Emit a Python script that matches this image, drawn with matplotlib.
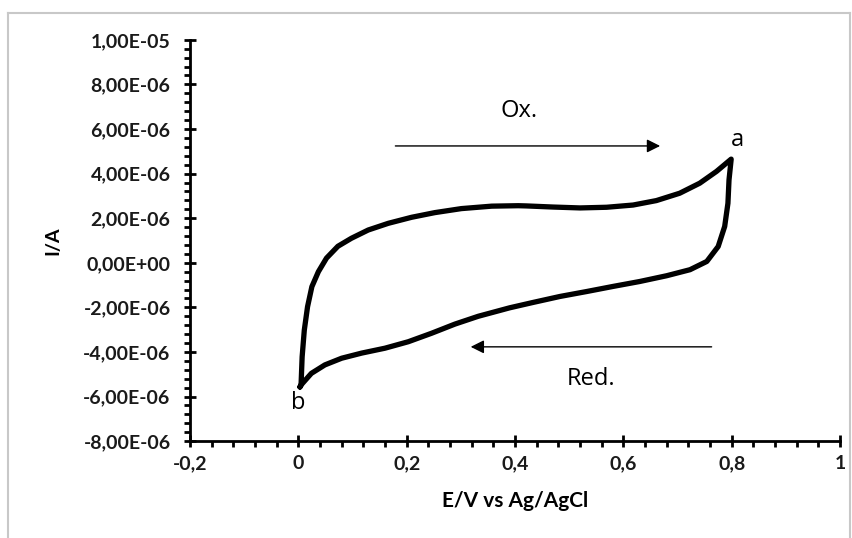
import numpy as np
import matplotlib.pyplot as plt
from matplotlib.ticker import MultipleLocator, FixedLocator, FixedFormatter
from matplotlib.lines import Line2D

# oxidation sweep, b -> a  (E in V, I in 1e-6 A)
e_ox = [0.003, 0.005, 0.007, 0.011, 0.017, 0.025, 0.037, 0.052, 0.073, 0.098,
        0.129, 0.166, 0.209, 0.252, 0.301, 0.357, 0.406, 0.421, 0.470, 0.520,
        0.569, 0.618, 0.661, 0.704, 0.741, 0.772, 0.799]
i_ox = [-5.57, -5.48, -4.22, -3.02, -1.97, -1.07, -0.40, 0.21, 0.74, 1.10,
        1.47, 1.77, 2.04, 2.25, 2.43, 2.54, 2.56, 2.55, 2.50, 2.46,
        2.49, 2.59, 2.79, 3.12, 3.57, 4.10, 4.65]
# reduction sweep, a -> b
e_red = [0.799, 0.795, 0.793, 0.787, 0.775, 0.754, 0.723, 0.680, 0.630, 0.581,
         0.532, 0.483, 0.433, 0.390, 0.332, 0.289, 0.246, 0.203, 0.160, 0.117,
         0.080, 0.049, 0.024, 0.005, 0.003]
i_red = [4.65, 3.72, 2.67, 1.63, 0.73, 0.06, -0.31, -0.58, -0.84, -1.06,
         -1.29, -1.51, -1.78, -2.02, -2.40, -2.75, -3.16, -3.54, -3.83, -4.05,
         -4.28, -4.58, -4.96, -5.48, -5.57]

x_ticks = [-0.2, 0, 0.2, 0.4, 0.6, 0.8, 1]
x_labels = ['-0,2', '0', '0,2', '0,4', '0,6', '0,8', '1']
y_ticks = [1e-5, 8e-6, 6e-6, 4e-6, 2e-6, 0, -2e-6, -4e-6, -6e-6, -8e-6]

E = np.array(e_ox + e_red)
I = np.array(i_ox + i_red) * 1e-6

fig = plt.figure(figsize=(8.52, 5.38), dpi=100)
ax = fig.add_axes([0.223, 0.180, 0.763, 0.746])

ax.plot(E, I, color='black', lw=3.8, solid_joinstyle='round', solid_capstyle='round')

ax.set_xlim(-0.2, 1)
ax.set_ylim(-8e-6, 1e-5)

ax.xaxis.set_major_locator(FixedLocator(x_ticks))
ax.xaxis.set_major_formatter(FixedFormatter(x_labels))
ax.xaxis.set_minor_locator(MultipleLocator(0.04))
ax.yaxis.set_major_locator(FixedLocator(y_ticks))
ax.set_yticklabels([f'{v:.2E}'.replace('.', ',') for v in y_ticks])
ax.yaxis.set_minor_locator(MultipleLocator(4e-7))

for s in ['top', 'right']:
    ax.spines[s].set_visible(False)
for s in ['left', 'bottom']:
    ax.spines[s].set_linewidth(2)

ax.tick_params(which='major', direction='inout', length=8, width=2)
ax.tick_params(which='minor', direction='out', length=4, width=2)
ax.tick_params(axis='y', which='major', labelsize=14, pad=10)
ax.tick_params(axis='x', which='major', labelsize=14, pad=6)
for lab in ax.get_xticklabels() + ax.get_yticklabels():
    lab.set_fontfamily('Lato')
    lab.set_fontweight('bold')
    lab.set_color('#1a1a1a')

ax.set_xlabel('E/V vs Ag/AgCl', fontsize=15, fontweight='bold', family='Lato', labelpad=14)
ax.set_ylabel('I/A', fontsize=14, fontweight='bold', family='Lato', labelpad=16)

# sweep arrows and labels
ax.annotate('', xy=(0.673, 5.24e-6), xytext=(0.174, 5.24e-6),
            arrowprops=dict(arrowstyle='-|>', color='black', lw=1, mutation_scale=20))
ax.annotate('', xy=(0.313, -3.77e-6), xytext=(0.768, -3.77e-6),
            arrowprops=dict(arrowstyle='-|>', color='black', lw=1, mutation_scale=20))
tkw = dict(family='Open Sans', fontsize=17, ha='center', va='center')
ax.text(0.408, 6.8e-6, 'Ox.', **tkw)
ax.text(0.540, -5.2e-6, 'Red.', **tkw)
ax.text(0.811, 5.5e-6, 'a', **tkw)
ax.text(-0.001, -6.3e-6, 'b', **tkw)

# light grey frame around the picture
for xs, ys in [([8 / 852, 8 / 852], [0, 1 - 13 / 538]),
               ([8 / 852, 850 / 852], [1 - 13 / 538, 1 - 13 / 538]),
               ([850 / 852, 850 / 852], [0, 1 - 13 / 538])]:
    fig.add_artist(Line2D(xs, ys, color='#c8c8c8', lw=1.5, transform=fig.transFigure))

fig.savefig('out.png', dpi=100)
